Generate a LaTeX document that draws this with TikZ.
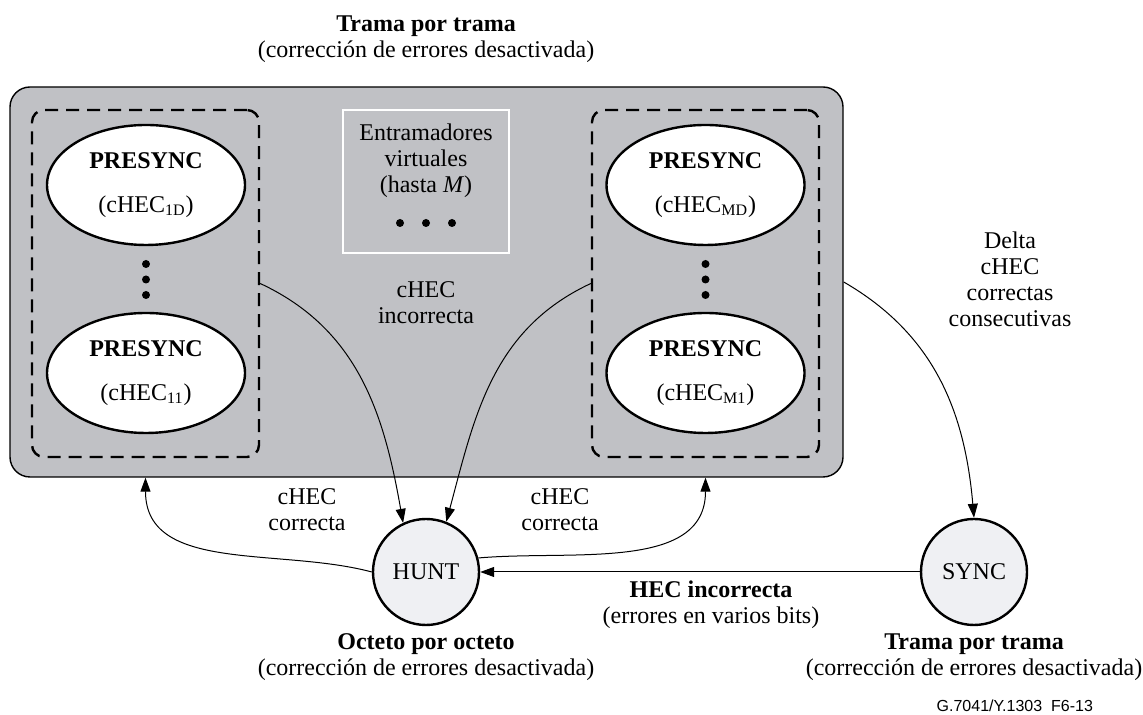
\documentclass[tikz,border=0pt]{standalone}
\usepackage{fontspec}
\setmainfont{Liberation Serif}
\newfontfamily\figfont{Liberation Sans}
\usetikzlibrary{shapes.geometric,arrows.meta}

\definecolor{panelgray}{RGB}{192,193,197}
\definecolor{statefill}{RGB}{239,240,243}

\begin{document}
\begin{tikzpicture}[x=0.5pt,y=0.5pt,
        font=\fontsize{12}{13}\selectfont,
        grp/.style={draw, dash pattern=on 6.5pt off 4pt, line width=1.2pt, rounded corners=6pt,
            minimum width=113.5pt, minimum height=173.5pt},
        pre/.style={ellipse, draw, line width=1.2pt, fill=white, minimum width=99pt,
            minimum height=60pt, inner sep=0pt, align=center},
        state/.style={circle, draw, line width=1.2pt, fill=statefill, minimum size=53pt, inner sep=0pt},
        lbl/.style={align=center},
        arr/.style={-{Triangle[length=7pt,width=5pt]}, line width=0.5pt}]
        \useasboundingbox (0,0) rectangle (1143,715);

        % Panel
        \node[draw, line width=0.7pt, fill=panelgray, rounded corners=10pt,
            minimum width=416.5pt, minimum height=195pt] (panel) at (426.5,433) {};
        \node[lbl] (title) at (426,676) {\textbf{Trama por trama}\\(corrección de errores desactivada)};

        % Groups
        \node[grp] (lgrp) at (145.5,431.5) {};
        \node[grp] (rgrp) at (705.5,431.5) {};

        % PRESYNC states
        \node[pre] (lTop) at (146,530) {\textbf{PRESYNC}\\[9pt](cHEC\textsubscript{1D})};
        \node[pre] (lBot) at (146,342) {\textbf{PRESYNC}\\[9pt](cHEC\textsubscript{11})};
        \node[pre] (rTop) at (705.5,530) {\textbf{PRESYNC}\\[9pt](cHEC\textsubscript{MD})};
        \node[pre] (rBot) at (705.5,342) {\textbf{PRESYNC}\\[9pt](cHEC\textsubscript{M1})};
        \fill (146,451) circle (2pt);
        \fill (146,435.5) circle (2pt);
        \fill (146,420) circle (2pt);
        \fill (705.5,451) circle (2pt);
        \fill (705.5,435.5) circle (2pt);
        \fill (705.5,420) circle (2pt);

        % Virtual framers
        \node[draw=white, line width=1.2pt, minimum width=83pt, minimum height=71.5pt] (frames) at (426,533.5) {};
        \node[lbl] (framestxt) at (426,554) {Entramadores\\virtuales\\(hasta \textit{M})};
        \fill (400,492) circle (2pt);
        \fill (426,492) circle (2pt);
        \fill (452,492) circle (2pt);
        \node[lbl] (badc) at (426,412) {cHEC\\incorrecta};

        % HUNT and SYNC
        \node[state] (hunt) at (426,143) {HUNT};
        \node[state] (sync) at (974,143) {SYNC};
        \node[lbl] (hunttxt) at (426,58) {\textbf{Octeto por octeto}\\(corrección de errores desactivada)};
        \node[lbl] (synctxt) at (974,58) {\textbf{Trama por trama}\\(corrección de errores desactivada)};

        % Labels
        \node[lbl] (okl) at (307,205) {cHEC\\correcta};
        \node[lbl] (okr) at (560,205) {cHEC\\correcta};
        \node[lbl] (badhec) at (711,110) {\textbf{HEC incorrecta}\\(errores en varios bits)};
        \node[lbl] (delta) at (1010,436) {Delta\\cHEC\\correctas\\consecutivas};
        \node[anchor=east, font={\figfont\fontsize{8}{9}\selectfont}] (figid) at (1100,9) {G.7041/Y.1303\ \ F6-13};

        % Transitions
        \coordinate (lin) at (panel.south -| lgrp.south);
        \coordinate (rin) at (panel.south -| rgrp.south);
        \draw[arr] (lgrp.east) to[out=-25,in=100] (hunt.115);
        \draw[arr] (rgrp.west) to[out=205,in=75] (hunt.68);
        \draw[arr] (panel.east) to[out=-30,in=95] (sync.north);
        \draw[arr] (hunt.west) to[out=165,in=-90] (lin);
        \draw[arr] (hunt.15) to[out=5,in=-90] (rin);
        \draw[arr] (sync.west) -- (hunt.east);
    \end{tikzpicture}
\end{document}
